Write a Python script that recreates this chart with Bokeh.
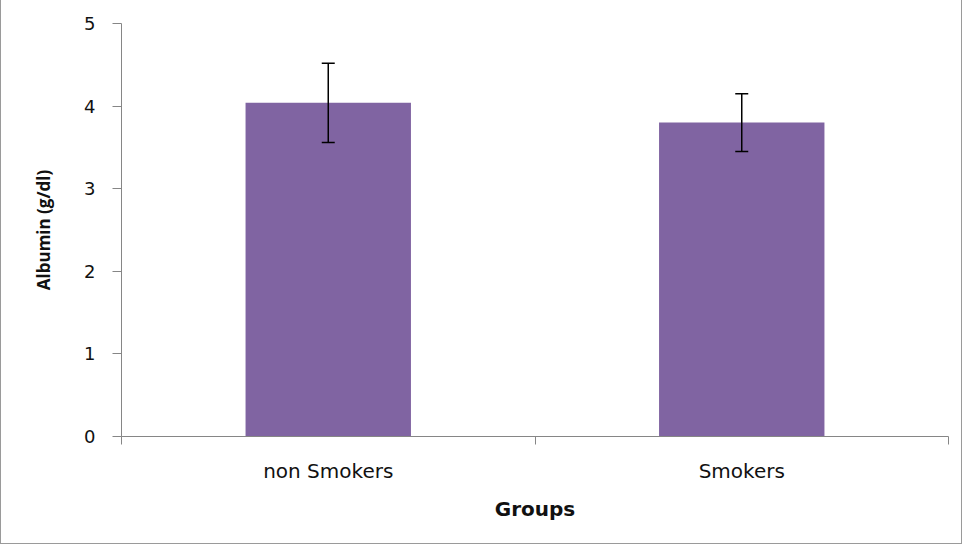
from bokeh.plotting import figure
from bokeh.models import (ColumnDataSource, Whisker, FixedTicker, LinearAxis, Range1d)
from bokeh.embed import file_html
from bokeh.resources import INLINE

groups = ["non Smokers", "Smokers"]
means = [4.04, 3.80]
errors = [0.48, 0.35]
y_ticks = [0, 1, 2, 3, 4, 5]

xpos = [i + 0.5 for i in range(len(groups))]
src = ColumnDataSource(dict(
    x=xpos, top=means,
    upper=[m + e for m, e in zip(means, errors)],
    lower=[m - e for m, e in zip(means, errors)],
))

WIDE = "DejaVu Sans"
NARROW = "Open Sans"
TXT = "#111111"
AX = "#868686"

p = figure(width=962, height=548, output_backend="svg", toolbar_location=None,
           x_range=Range1d(0, len(groups)), y_range=Range1d(0, 5),
           min_border_left=120, min_border_right=15, min_border_top=26,
           min_border_bottom=109)
p.styles = {"border": "1px solid #9a9a9a", "margin-top": "-4px"}
p.outline_line_color = None
p.grid.visible = False

p.vbar(x="x", top="top", width=0.4, source=src, color="#8064A2", line_color=None)
w = Whisker(base="x", upper="upper", lower="lower", source=src,
            line_color="black", line_width=1.5, level="overlay")
w.upper_head.size = 13
w.lower_head.size = 13
w.upper_head.line_width = 1.5
w.lower_head.line_width = 1.5
w.upper_head.line_color = "black"
w.lower_head.line_color = "black"
p.add_layout(w)

# y axis
ya = p.yaxis[0]
ya.ticker = FixedTicker(ticks=y_ticks)
ya.minor_tick_line_color = None
ya.major_tick_in = 0
ya.major_tick_out = 9
ya.axis_line_color = AX
ya.major_tick_line_color = AX
ya.major_label_text_font = WIDE
ya.major_label_text_font_size = "18px"
ya.major_label_text_color = TXT
ya.major_label_standoff = 17
ya.axis_label = "Albumin (g/dl)"
ya.axis_label_text_font = NARROW
ya.axis_label_text_font_style = "bold"
ya.axis_label_text_font_size = "17px"
ya.axis_label_text_color = TXT
ya.axis_label_standoff = 26

# x axis: boundary ticks
xa = p.xaxis[0]
xa.ticker = FixedTicker(ticks=list(range(len(groups) + 1)))
xa.major_label_overrides = {i: "" for i in range(len(groups) + 1)}
xa.major_label_text_font_size = "0px"
xa.minor_tick_line_color = None
xa.major_tick_in = 0
xa.major_tick_out = 8
xa.axis_line_color = AX
xa.major_tick_line_color = AX

# x axis: category labels
xl = LinearAxis(ticker=FixedTicker(ticks=xpos),
                major_label_overrides={x: g for x, g in zip(xpos, groups)})
xl.axis_line_color = None
xl.major_tick_line_color = None
xl.minor_tick_line_color = None
xl.major_label_text_font = WIDE
xl.major_label_text_font_size = "20px"
xl.major_label_text_color = TXT
xl.major_label_standoff = 8
xl.axis_label = "Groups"
xl.axis_label_text_font = WIDE
xl.axis_label_text_font_style = "bold"
xl.axis_label_text_font_size = "20px"
xl.axis_label_text_color = TXT
xl.axis_label_standoff = 11
p.add_layout(xl, "below")

open("out.html", "w").write(file_html(p, INLINE))
